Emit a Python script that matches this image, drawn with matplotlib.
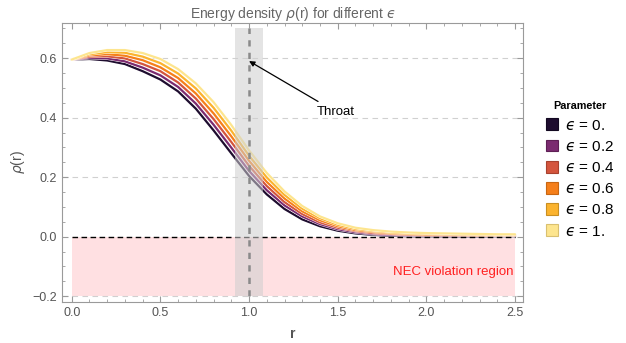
import numpy as np
import matplotlib
matplotlib.use("Agg")
import matplotlib.pyplot as plt
from matplotlib.patches import Patch
from matplotlib.ticker import MultipleLocator
import matplotlib.patheffects as pe

plt.rcParams['font.family'] = ['Liberation Sans', 'DejaVu Sans']
plt.rcParams['mathtext.fontset'] = 'custom'
plt.rcParams['mathtext.rm'] = 'Liberation Sans'
plt.rcParams['mathtext.it'] = 'DejaVu Sans:italic'
plt.rcParams['mathtext.bf'] = 'Liberation Sans:bold'

# ---- data ----
r_values = [0.0, 0.1, 0.2, 0.3, 0.4, 0.5, 0.6, 0.7, 0.8, 0.9, 1.0, 1.1, 1.2,
            1.3, 1.4, 1.5, 1.6, 1.7, 1.8, 1.9, 2.0, 2.1, 2.2, 2.3, 2.4, 2.5]

rho_eps_00 = [0.595, 0.597, 0.592, 0.580, 0.556, 0.528, 0.488, 0.430, 0.357, 0.280,
              0.204, 0.142, 0.093, 0.058, 0.035, 0.020, 0.011, 0.006, 0.003, 0.0015,
              0.0007, 0.0003, 0.0001, 0.0, 0.0, 0.0]
rho_eps_02 = [0.595, 0.601, 0.599, 0.589, 0.568, 0.542, 0.503, 0.447, 0.376, 0.299,
              0.221, 0.156, 0.105, 0.068, 0.042, 0.025, 0.015, 0.009, 0.006, 0.004,
              0.003, 0.002, 0.002, 0.002, 0.002, 0.002]
rho_eps_04 = [0.595, 0.605, 0.606, 0.599, 0.580, 0.556, 0.518, 0.464, 0.395, 0.318,
              0.238, 0.170, 0.116, 0.076, 0.048, 0.030, 0.019, 0.012, 0.009, 0.006,
              0.005, 0.005, 0.004, 0.004, 0.003, 0.003]
rho_eps_06 = [0.595, 0.609, 0.613, 0.608, 0.593, 0.569, 0.533, 0.481, 0.414, 0.337,
              0.255, 0.184, 0.128, 0.085, 0.055, 0.035, 0.022, 0.016, 0.011, 0.009,
              0.007, 0.007, 0.006, 0.005, 0.005, 0.005]
rho_eps_08 = [0.595, 0.613, 0.620, 0.618, 0.605, 0.583, 0.548, 0.498, 0.433, 0.356,
              0.272, 0.199, 0.140, 0.094, 0.062, 0.040, 0.026, 0.019, 0.014, 0.011,
              0.010, 0.009, 0.008, 0.007, 0.006, 0.006]
rho_eps_10 = [0.595, 0.617, 0.627, 0.627, 0.617, 0.597, 0.563, 0.515, 0.452, 0.375,
              0.290, 0.214, 0.152, 0.103, 0.068, 0.045, 0.030, 0.022, 0.017, 0.014,
              0.012, 0.011, 0.010, 0.009, 0.008, 0.008]

series = [rho_eps_00, rho_eps_02, rho_eps_04, rho_eps_06, rho_eps_08, rho_eps_10]
legend_labels = ["$\u03f5$ = 0.", "$\u03f5$ = 0.2", "$\u03f5$ = 0.4",
                 "$\u03f5$ = 0.6", "$\u03f5$ = 0.8", "$\u03f5$ = 1."]
colors = ["#1e0d2f", "#7b2b70", "#d4553d", "#f57f1a", "#fbb32e", "#fde58e"]
edge_colors = ["#120820", "#5e1f55", "#a8412e", "#c86612", "#c98f22", "#d9c070"]

throat_r = 1.0
throat_halfwidth = 0.08
nec_r_range = [0.0, 2.5]
nec_rho_range = [-0.2, 0.0]

x_ticks = [0.0, 0.5, 1.0, 1.5, 2.0, 2.5]
y_ticks = [-0.2, 0.0, 0.2, 0.4, 0.6]

# ---- figure ----
fig = plt.figure(figsize=(6.26, 3.43), dpi=100)
ax = fig.add_axes([0.099, 0.12, 0.7365, 0.813])

frame_gray = "#9a9a9a"
text_gray = "#555555"

# NEC region
ax.fill_between(nec_r_range, nec_rho_range[0], nec_rho_range[1],
                color="#ffe0e2", lw=0, zorder=0.5)

# grid lines (horizontal)
for yv in [0.6, 0.4, 0.2, -0.2]:
    ax.axhline(yv, color="#d0d0d0", lw=0.8, dashes=(5, 4), zorder=0.6)

# curves
for vals, c in zip(series, colors):
    ax.plot(r_values, vals, color=c, lw=1.6, zorder=2, solid_capstyle="round",
            solid_joinstyle="round",
            path_effects=[pe.Stroke(linewidth=2.2, foreground="white"), pe.Normal()])

# zero line
ax.plot(nec_r_range, [0, 0], color="black", lw=1.0, dashes=(4, 2.5), zorder=3)

# throat band + line
ax.fill_between([throat_r - throat_halfwidth, throat_r + throat_halfwidth], -0.2, 0.7,
                color="#cfcfcf", alpha=0.55, lw=0, zorder=4)
ax.plot([throat_r, throat_r], [-0.2, 0.7], color="#8a8a8a", lw=1.8, dashes=(2.5, 2.5), zorder=5)

# annotation
ax.annotate("Throat", xy=(1.0, 0.59), xytext=(1.38, 0.42), fontsize=9.5, color="black",
            ha="left", va="center", zorder=6,
            arrowprops=dict(arrowstyle="-|>", color="black", lw=0.9,
                            shrinkA=2, shrinkB=0, mutation_scale=8))

ax.text(2.49, -0.118, "NEC violation region", color="#ff2020", fontsize=9.5,
        ha="right", va="center", zorder=6)

# axes styling
ax.set_xlim(-0.055, 2.545)
ax.set_ylim(-0.219, 0.718)
ax.set_xticks(x_ticks)
ax.set_yticks(y_ticks)
ax.set_xticklabels([f"{v:.1f}" for v in x_ticks])
ax.set_yticklabels([f"{v:.1f}".replace("-", "\u2212") for v in y_ticks])
ax.xaxis.set_minor_locator(MultipleLocator(0.1))
ax.yaxis.set_minor_locator(MultipleLocator(0.05))
ax.tick_params(which="both", direction="in", top=True, right=True, color=frame_gray,
               labelcolor=text_gray, labelsize=9)
ax.tick_params(which="major", length=4, width=0.8)
ax.tick_params(which="minor", length=2.2, width=0.6)
for s in ax.spines.values():
    s.set_color(frame_gray)
    s.set_linewidth(0.8)

ax.set_xlabel("r", color=text_gray, fontsize=10, fontweight="bold", labelpad=6)
ax.set_ylabel(r"$\rho$(r)", color=text_gray, fontsize=10, labelpad=4)
ax.set_title("Energy density $\\rho$(r) for different $\u03f5$", color="#666666",
             fontsize=10, pad=3)

# legend
handles = [Patch(facecolor=c, edgecolor=e, lw=0.8) for c, e in zip(colors, edge_colors)]
leg = fig.legend(handles, legend_labels, title="Parameter", loc="upper left",
                 bbox_to_anchor=(0.862, 0.722), frameon=False, fontsize=11,
                 handlelength=0.8, handleheight=0.8, handletextpad=0.45,
                 labelspacing=0.46, borderaxespad=0)
leg.get_title().set_fontweight("bold")
leg.get_title().set_fontsize(7.8)

fig.savefig("out.png", dpi=100)
